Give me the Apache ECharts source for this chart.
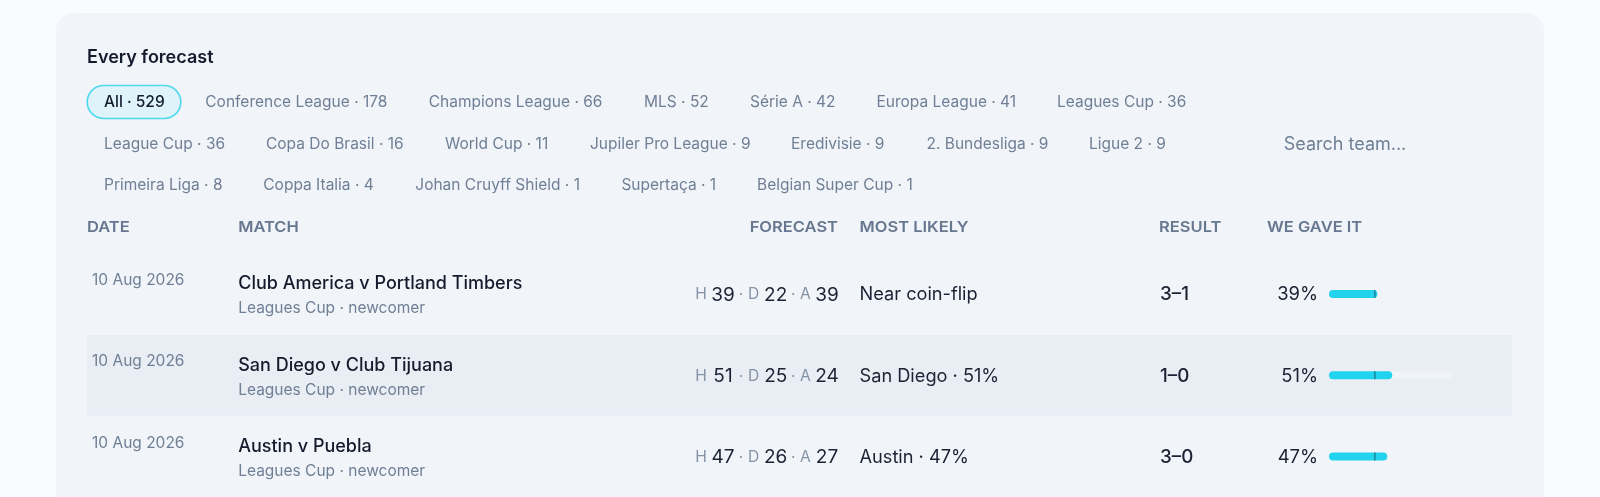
<!DOCTYPE html>
<html>
<head>
<meta charset="utf-8">
<title>Every forecast</title>
<style>
  html, body { margin: 0; padding: 0; background: #fafbfe; }
  #chart { width: 1600px; height: 497px; }
</style>
<script src="https://cdn.jsdelivr.net/npm/echarts@6/dist/echarts.min.js"></script>
</head>
<body>
<div id="chart"></div>
<script>
var chipRows = [
  ['All · 529', 'Conference League · 178', 'Champions League · 66', 'MLS · 52', 'Série A · 42', 'Europa League · 41', 'Leagues Cup · 36'],
  ['League Cup · 36', 'Copa Do Brasil · 16', 'World Cup · 11', 'Jupiler Pro League · 9', 'Eredivisie · 9', '2. Bundesliga · 9', 'Ligue 2 · 9'],
  ['Primeira Liga · 8', 'Coppa Italia · 4', 'Johan Cruyff Shield · 1', 'Supertaça · 1', 'Belgian Super Cup · 1']
];
var headers = ['DATE', 'MATCH', 'FORECAST', 'MOST LIKELY', 'RESULT', 'WE GAVE IT'];
var dates = ['10 Aug 2026', '10 Aug 2026', '10 Aug 2026'];
var matches = ['Club America v Portland Timbers', 'San Diego v Club Tijuana', 'Austin v Puebla'];
var notes = ['Leagues Cup · newcomer', 'Leagues Cup · newcomer', 'Leagues Cup · newcomer'];
var homeWin = [39, 51, 47];
var draw = [22, 25, 26];
var awayWin = [39, 24, 27];
var mostLikely = ['Near coin-flip', 'San Diego · 51%', 'Austin · 47%'];
var results = ['3–1', '1–0', '3–0'];
var gaveIt = [39, 51, 47];
var baseline = [37, 37, 37];

// layout
var chipX = [
  [104, 205.3, 428.7, 644, 750, 876.5, 1057],
  [104, 266, 445, 590, 791, 926.5, 1089],
  [104, 263.3, 415.3, 621.4, 757]
];
var chipY = [102.3, 144, 185];
var headerX = [87, 238.2, 838, 859.5, 1159, 1267];
var rowY = [294, 375.3, 456.7];
var rowH = 81.33;

var font = 'Inter, sans-serif';
var dark = '#1a2233', mid = '#6f7f95', head = '#66778f', soft = '#8593a8';

function txt(x, y, text, size, color, weight, align) {
  return {
    type: 'text', x: x, y: y, silent: true, z: 5,
    style: {
      text: text, font: (weight || 400) + ' ' + size + 'px ' + font,
      fill: color, align: align || 'left', verticalAlign: 'middle'
    }
  };
}

var g = [
  { type: 'rect', z: 0, silent: true, shape: { x: 56, y: 13, width: 1488, height: 520, r: 18 }, style: { fill: '#f1f4f9' } },
  { type: 'rect', z: 1, silent: true, shape: { x: 87, y: 335, width: 1425, height: 80.7 }, style: { fill: '#e9edf4' } },
  { type: 'rect', z: 2, silent: true, shape: { x: 87.2, y: 85.5, width: 93.6, height: 33, r: 16.5 }, style: { fill: '#dff3fa', stroke: '#4fd9ec', lineWidth: 1.6 } },
  txt(87, 58, 'Every forecast', 18, '#141b2d', 600)
];

chipRows.forEach(function (row, r) {
  row.forEach(function (label, i) {
    var active = r === 0 && i === 0;
    g.push(txt(chipX[r][i], chipY[r], label, 15.5, active ? '#141b2d' : mid, active ? 500 : 400));
  });
});
g.push(txt(1283.7, 144.5, 'Search team...', 18, mid));

// column heads are tracked out in the original, canvas text has no letter spacing so stretch a little
headers.forEach(function (h, i) {
  var t = txt(headerX[i], 227.6, h, 15, head, 600, i === 2 ? 'right' : 'left');
  t.scaleX = 1.1;
  g.push(t);
});

matches.forEach(function (m, i) {
  var y = rowY[i] + 0.8;
  g.push(txt(92, y - 14.5, dates[i], 15.5, mid));
  g.push(txt(238.2, y - 11, m, 18, '#141b2d', 500));
  g.push(txt(238.2, y + 14, notes[i], 15.5, mid));

  // forecast cell: H nn · D nn · A nn, numbers centred in a fixed slot
  g.push(txt(695.3, y, 'H', 15.6, soft));
  g.push(txt(723, y, String(homeWin[i]), 19, dark, 400, 'center'));
  g.push(txt(741, y, '·', 15.6, soft, 400, 'center'));
  g.push(txt(748, y, 'D', 15.6, soft));
  g.push(txt(775.7, y, String(draw[i]), 19, dark, 400, 'center'));
  g.push(txt(793.3, y, '·', 15.6, soft, 400, 'center'));
  g.push(txt(800, y, 'A', 15.6, soft));
  g.push(txt(827, y, String(awayWin[i]), 19, dark, 400, 'center'));

  g.push(txt(859.5, y, mostLikely[i], 18.2, dark));
  g.push(txt(1160, y, results[i], 18.8, dark, 500));
  g.push(txt(1318, y, gaveIt[i] + '%', 18.4, dark, 400, 'right'));
});

var chart = echarts.init(document.getElementById('chart'), null, { renderer: 'canvas' });
chart.setOption({
  animation: false,
  backgroundColor: 'transparent',
  graphic: g,
  grid: { left: 1329, width: 124, top: rowY[0] - rowH / 2, height: rowH * 3 },
  xAxis: { type: 'value', min: 0, max: 100, show: false },
  yAxis: { type: 'category', inverse: true, data: matches, show: false },
  series: [
    {
      type: 'bar', z: 6, barWidth: 8, barGap: '-100%', silent: true,
      data: matches.map(function () { return 100; }),
      itemStyle: { color: '#f0f3f8', borderRadius: 4 }
    },
    {
      type: 'bar', z: 7, barWidth: 8, barGap: '-100%', silent: true,
      data: gaveIt,
      itemStyle: { color: '#22d3ee', borderRadius: 4 }
    },
    {
      type: 'scatter', z: 8, silent: true,
      symbol: 'rect', symbolSize: [1.2, 8],
      data: baseline.map(function (v, i) { return [v, i]; }),
      itemStyle: { color: '#0e5a6e' }
    }
  ]
});
</script>
</body>
</html>
